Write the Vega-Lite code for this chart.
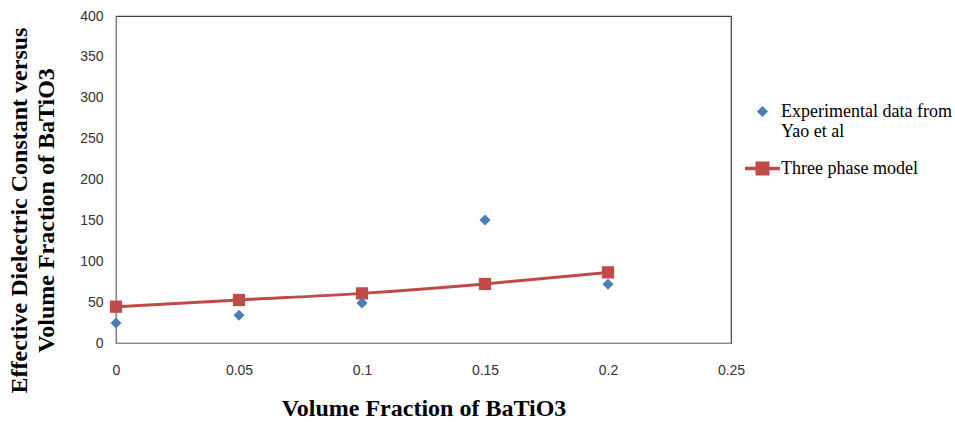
{
  "$schema": "https://vega.github.io/schema/vega-lite/v6.json",
  "autosize": {"type": "none"},
  "width": 615,
  "height": 327,
  "padding": {"left": 116, "top": 16, "right": 224, "bottom": 79},
  "background": "white",
  "config": {
    "view": {"stroke": "#404040", "strokeWidth": 1.2},
    "axis": {
      "labelFont": "Liberation Sans",
      "labelFontSize": 14,
      "labelColor": "#333333",
      "titleFont": "Liberation Serif",
      "titleFontSize": 24,
      "titleFontWeight": "bold",
      "titleColor": "#000000",
      "domainColor": "#888888",
      "domainWidth": 1.2,
      "grid": false,
      "ticks": false
    }
  },
  "data": {
    "values": [
      {"vf": 0, "value": 24.5, "series": "Experimental data from Yao et al"},
      {"vf": 0.05, "value": 34, "series": "Experimental data from Yao et al"},
      {"vf": 0.1, "value": 49, "series": "Experimental data from Yao et al"},
      {"vf": 0.15, "value": 150.5, "series": "Experimental data from Yao et al"},
      {"vf": 0.2, "value": 71.8, "series": "Experimental data from Yao et al"},
      {"vf": 0, "value": 44.4, "series": "Three phase model"},
      {"vf": 0.05, "value": 52.6, "series": "Three phase model"},
      {"vf": 0.1, "value": 60.7, "series": "Three phase model"},
      {"vf": 0.15, "value": 72.2, "series": "Three phase model"},
      {"vf": 0.2, "value": 86.4, "series": "Three phase model"}
    ]
  },
  "encoding": {
    "x": {
      "field": "vf", "type": "quantitative",
      "scale": {"domain": [0, 0.25], "nice": false},
      "axis": {
        "values": [0, 0.05, 0.1, 0.15, 0.2, 0.25],
        "format": "~g",
        "labelFlush": false,
        "labelPadding": 20,
        "title": "Volume Fraction of BaTiO3",
        "titleY": 72,
        "titleBaseline": "alphabetic"
      }
    },
    "y": {
      "field": "value", "type": "quantitative",
      "scale": {"domain": [0, 400], "nice": false},
      "axis": {
        "values": [0, 50, 100, 150, 200, 250, 300, 350, 400],
        "labelPadding": 13,
        "title": ["Effective Dielectric Constant versus", "Volume Fraction of BaTiO3"],
        "titleLineHeight": 27,
        "titleX": -109,
        "titleY": 194,
        "titleBaseline": "top",
        "titleAngle": -90
      }
    },
    "color": {
      "field": "series", "type": "nominal",
      "scale": {"domain": ["Experimental data from Yao et al", "Three phase model"], "range": ["#4A7EBB", "#BE4B48"]},
      "legend": {
        "title": null,
        "orient": "none",
        "legendX": 629,
        "legendY": 78,
        "labelFont": "Liberation Serif",
        "labelFontSize": 18,
        "labelLineHeight": 23,
        "labelColor": "#000000",
        "labelBaseline": "top",
        "labelOffset": 1,
        "labelExpr": "datum.label == 'Experimental data from Yao et al' ? ['Experimental data from', 'Yao et al'] : datum.label",
        "labelLimit": 300,
        "rowPadding": 10,
        "symbolSize": 1225,
        "encode": {
          "labels": {
            "update": {
              "dy": {"value": -9}
            }
          },
          "symbols": {
            "update": {
              "shape": [
                {"test": "datum.label == 'Three phase model'", "value": "M-1,-0.1H1V0.1H-1Z M-0.4,-0.4H0.4V0.4H-0.4Z"},
                {"value": "M0,-0.32L0.32,0L0,0.32L-0.32,0Z"}
              ],
              "size": {"value": 1225},
              "opacity": {"value": 1},
              "strokeWidth": {"value": 0}
            }
          }
        }
      }
    }
  },
  "layer": [
    {
      "transform": [{"filter": "datum.series == 'Three phase model'"}],
      "mark": {"type": "line", "strokeWidth": 3, "interpolate": "monotone"}
    },
    {
      "transform": [{"filter": "datum.series == 'Three phase model'"}],
      "mark": {"type": "point", "filled": true, "opacity": 1, "shape": "square", "size": 150}
    },
    {
      "transform": [{"filter": "datum.series != 'Three phase model'"}],
      "mark": {"type": "point", "filled": true, "opacity": 1, "shape": "diamond", "size": 120}
    }
  ]
}
